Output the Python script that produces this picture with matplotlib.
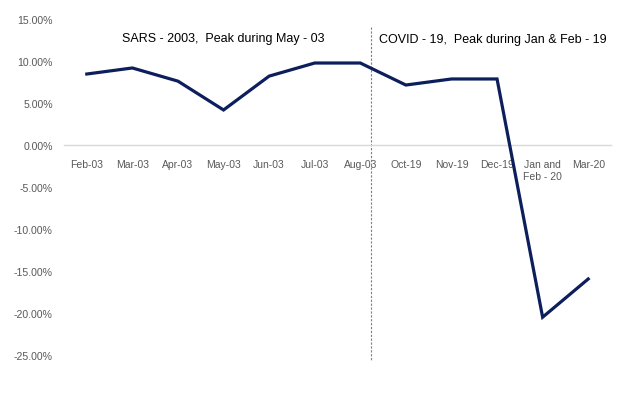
import matplotlib
matplotlib.use("Agg")
import matplotlib.pyplot as plt
from matplotlib.ticker import FuncFormatter

# ── data (percent) ──────────────────────────────────────────────────────────
months = ["Feb-03", "Mar-03", "Apr-03", "May-03", "Jun-03", "Jul-03", "Aug-03",
          "Oct-19", "Nov-19", "Dec-19", "Jan and\nFeb - 20", "Mar-20"]
growth = [8.45, 9.17, 7.6, 4.17, 8.2, 9.76, 9.76, 7.14, 7.86, 7.86, -20.5, -15.95]
y_ticks = [15, 10, 5, 0, -5, -10, -15, -20, -25]
sars_note = "SARS - 2003,  Peak during May - 03"
covid_note = "COVID - 19,  Peak during Jan & Feb - 19"

NAVY = "#0c1f5c"
GREY_TXT = "#595959"
ZERO = "#d9d9d9"

plt.rcParams["font.family"] = ["Liberation Sans", "DejaVu Sans"]

W, H = 628, 402
fig = plt.figure(figsize=(W / 100, H / 100), dpi=100)
ax = fig.add_axes([64 / W, 1 - 356 / H, (611 - 64) / W, (356 - 20) / H])

x = list(range(len(months)))
ax.plot(x, growth, color=NAVY, lw=2.3, solid_joinstyle="miter", zorder=3)

ax.set_xlim(-0.5, len(months) - 0.5)
ax.set_ylim(-25, 15)
ax.set_yticks(y_ticks)
ax.yaxis.set_major_formatter(FuncFormatter(lambda v, _: f"{v:.2f}%"))
ax.tick_params(axis="y", length=0, pad=8, labelsize=7.6, labelcolor=GREY_TXT)

# category axis sits on the zero line
for side in ("top", "right", "left"):
    ax.spines[side].set_visible(False)
ax.spines["bottom"].set_position(("data", 0))
ax.spines["bottom"].set_color(ZERO)
ax.spines["bottom"].set_linewidth(1.0)
ax.set_xticks(x)
ax.set_xticklabels(months, va="top", linespacing=1.25)
ax.tick_params(axis="x", length=0, pad=10, labelsize=7.5, labelcolor=GREY_TXT)

# separator between the two episodes
ax.plot([6.23, 6.23], [14.0, -25.7], color="#7f7f7f", lw=0.8,
        ls=(0, (2, 1.5)), clip_on=False, zorder=2)

ax.text(0.78, 12.7, sars_note, fontsize=9.0, color="black", va="center", ha="left")
ax.text(6.4, 12.6, covid_note, fontsize=9.0, color="black", va="center", ha="left")

fig.savefig("out.png", dpi=100, facecolor="white")
